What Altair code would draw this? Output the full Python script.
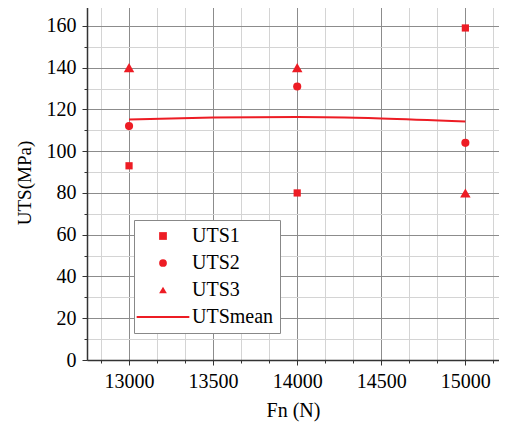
import altair as alt
import pandas as pd

# ---- data ----
fn = [13000, 14000, 15000]
uts1 = [93, 80, 159]
uts2 = [112, 131, 104]
uts3 = [140, 140, 80]
mean_fn = [13000, 13500, 14000, 14500, 15000]
mean_uts = [115.2, 116.1, 116.4, 115.7, 114.2]
series = ["UTS1", "UTS2", "UTS3", "UTSmean"]
x_ticks = [12833.33, 13000, 13166.67, 13333.33, 13500, 13666.67, 13833.33, 14000,
           14166.67, 14333.33, 14500, 14666.67, 14833.33, 15000, 15166.67]
y_ticks = [0, 10, 20, 30, 40, 50, 60, 70, 80, 90, 100, 110, 120, 130, 140, 150, 160, 170]

RED = "#ED1C24"
FONT = "'Liberation Serif', 'Times New Roman', serif"

mean_df = pd.DataFrame({"Fn": mean_fn, "UTS": mean_uts})

xscale = alt.Scale(domain=[12750, 15200], nice=False, zero=False)
yscale = alt.Scale(domain=[0, 170], nice=False)

xaxis = alt.Axis(
    values=x_ticks, format="d", labelOverlap=False,
    labelExpr="datum.value % 500 === 0 ? datum.label : ''",
    grid=True,
    gridColor={"condition": {"test": "datum.value % 500 === 0", "value": "#8c8c8c"}, "value": "#d4d4d4"},
    tickSize={"condition": {"test": "datum.value % 500 === 0", "value": 5}, "value": 3},
    labelPadding=6,
    title="Fn (N)", titlePadding=9,
)
yaxis = alt.Axis(
    values=y_ticks, labelOverlap=False,
    labelExpr="datum.value % 20 === 0 ? datum.label : ''",
    grid=True,
    gridColor={"condition": {"test": "datum.value % 20 === 0", "value": "#8c8c8c"}, "value": "#d4d4d4"},
    tickSize={"condition": {"test": "datum.value % 20 === 0", "value": 5}, "value": 3},
    labelPadding=6,
    title="UTS(MPa)", titleFontSize=19, titlePadding=12,
)

line_path = "M-6.8,-0.27L6.8,-0.27L6.8,0.27L-6.8,0.27Z"
shape_scale = alt.Scale(domain=series, range=["square", "circle", "triangle-up", line_path])

legend = alt.Legend(
    orient="none", legendX=47, legendY=215, title=None,
    strokeColor="#888", fillColor="white", padding=6, rowPadding=7,
    symbolOffset=13, labelOffset=19, symbolSize=60,
    symbolFillColor=RED, symbolStrokeWidth=0,
)

mean_line = alt.Chart(mean_df).mark_line(color=RED, strokeWidth=2, interpolate="monotone").encode(
    x=alt.X("Fn:Q", scale=xscale, axis=xaxis),
    y=alt.Y("UTS:Q", scale=yscale, axis=yaxis),
)


def point_layer(values, name, size):
    df = pd.DataFrame({"Fn": fn, "UTS": values, "series": [name] * len(fn)})
    return alt.Chart(df).mark_point(filled=True, color=RED, opacity=1, size=size).encode(
        x=alt.X("Fn:Q", scale=xscale, axis=xaxis),
        y=alt.Y("UTS:Q", scale=yscale, axis=yaxis),
        shape=alt.Shape("series:N", scale=shape_scale, legend=legend),
    )


chart = alt.layer(
    mean_line,
    point_layer(uts1, "UTS1", 52),
    point_layer(uts2, "UTS2", 66),
    point_layer(uts3, "UTS3", 110),
).properties(
    width=412, height=355,
    autosize=alt.AutoSizeParams(type="none"),
    padding={"left": 79, "top": -3, "right": 0, "bottom": 70},
    background="white",
).configure_view(stroke=None).configure_axis(
    labelOverlap=False,
    labelFont=FONT, labelFontSize=20, labelColor="black",
    titleFont=FONT, titleFontSize=20, titleFontWeight="normal", titleColor="black",
    tickColor="#333", domainColor="#333", domainWidth=1.5,
).configure_legend(
    labelFont=FONT, labelFontSize=20, labelColor="black",
)

chart.save("out.html", embed_options={"renderer": "svg", "actions": False})
